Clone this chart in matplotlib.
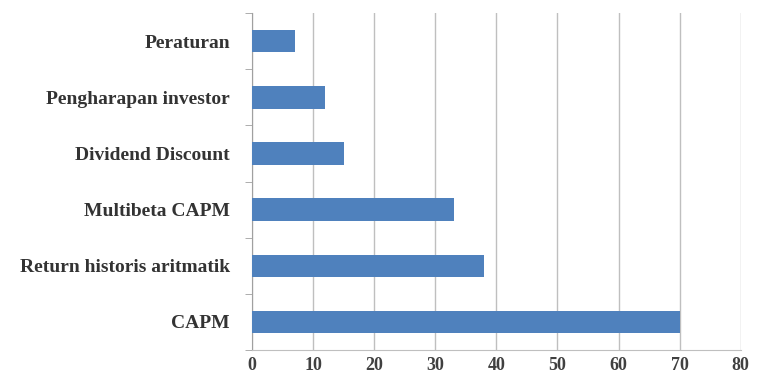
import matplotlib
matplotlib.use('Agg')
import matplotlib.pyplot as plt
import numpy as np

categories = ["CAPM", "Return historis aritmatik", "Multibeta CAPM",
              "Dividend Discount", "Pengharapan investor", "Peraturan"]
values = [70, 38, 33, 15, 12, 7]
xticks = [0, 10, 20, 30, 40, 50, 60, 70, 80]

plt.rcParams['font.family'] = ['Liberation Serif', 'DejaVu Serif']

fig = plt.figure(figsize=(7.59, 3.74), dpi=100)
ax = fig.add_axes([0.332, 0.064, 0.644, 0.901])

y = np.arange(len(categories))
ax.barh(y, values, height=0.4, color='#4F81BD', zorder=3)

ax.set_xlim(0, 80)
ax.set_ylim(-0.5, len(categories) - 0.5)
ax.set_xticks(xticks)
ax.set_xticklabels([str(t) for t in xticks], fontsize=13, fontweight='bold', color='#404040')
ax.set_yticks(y)
ax.set_yticklabels(categories, fontsize=14, fontweight='bold', color='#333333')
ax.tick_params(axis='y', length=0, pad=16)
ax.tick_params(axis='x', length=0, pad=5)

# boundary tick marks on y axis like Excel
ax.set_yticks(np.arange(-0.5, len(categories)), minor=True)
ax.tick_params(axis='y', which='minor', length=5, color='#A0A0A0')

ax.grid(axis='x', color='#BFBFBF', linewidth=1, zorder=0)
for s in ['top', 'right']:
    ax.spines[s].set_visible(False)
ax.spines['left'].set_color('#A0A0A0')
ax.spines['bottom'].set_color('#BFBFBF')

plt.savefig('out.png', dpi=100)
